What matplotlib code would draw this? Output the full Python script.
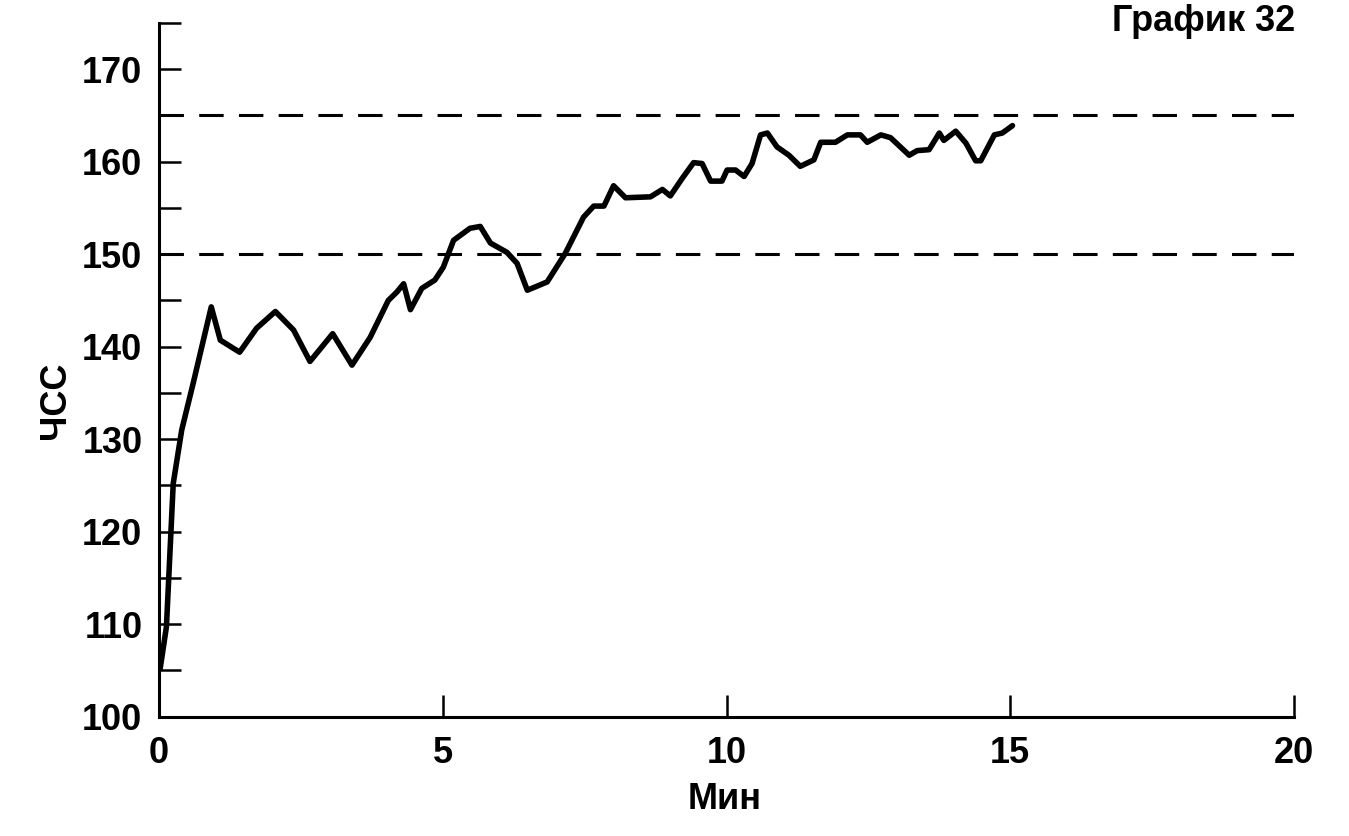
import matplotlib.pyplot as plt

# ЧСС по минутам
minutes = [0.02, 0.13, 0.25, 0.4, 0.6, 0.92, 1.08, 1.42, 1.72, 2.05, 2.37, 2.66,
           3.06, 3.4, 3.72, 4.04, 4.19, 4.31, 4.43, 4.63, 4.86, 5.01, 5.19, 5.48,
           5.66, 5.84, 6.13, 6.31, 6.49, 6.84, 7.16, 7.48, 7.66, 7.84, 8.01, 8.22,
           8.66, 8.87, 9.01, 9.22, 9.42, 9.57, 9.72, 9.92, 10.01, 10.16, 10.31,
           10.45, 10.6, 10.72, 10.89, 11.1, 11.3, 11.54, 11.66, 11.92, 12.13,
           12.36, 12.48, 12.72, 12.89, 13.22, 13.36, 13.57, 13.75, 13.83, 14.04,
           14.22, 14.39, 14.48, 14.72, 14.86, 15.04]
hr = [105.2, 109.7, 125.2, 131, 136, 144.3, 140.7, 139.4, 142, 143.8, 141.8, 138.4,
      141.4, 138, 141, 145, 145.9, 146.8, 144, 146.3, 147.2, 148.6, 151.5, 152.8,
      153, 151.2, 150.2, 149, 146.1, 147, 150.1, 154, 155.2, 155.2, 157.4, 156.1,
      156.2, 157, 156.3, 158.2, 159.9, 159.8, 157.9, 157.9, 159.1, 159.1, 158.4,
      159.8, 162.9, 163.1, 161.6, 160.7, 159.5, 160.2, 162.1, 162.1, 162.9,
      162.9, 162.1, 162.9, 162.6, 160.7, 161.2, 161.3, 163.1, 162.3, 163.3,
      162, 160.1, 160.1, 162.9, 163.1, 163.9]
thresholds = [150, 165]

plt.rcParams['font.family'] = ['Liberation Sans', 'DejaVu Sans']
plt.rcParams['font.weight'] = 'bold'
plt.rcParams['axes.labelweight'] = 'bold'

fig = plt.figure(figsize=(13.49, 8.36), dpi=100)
ax = fig.add_axes([0.1179, 0.1429, 0.9592 - 0.1179, 0.9725 - 0.1429])

for t in thresholds:
    ax.plot([0, 20], [t, t], color='black', linewidth=2.2, dashes=(8, 5))
ax.plot(minutes, hr, color='black', linewidth=4, solid_joinstyle='round',
        solid_capstyle='round')

ax.set_xlim(0, 20)
ax.set_ylim(100, 175)
ax.set_xticks([0, 5, 10, 15, 20])
ax.set_yticks([100, 105, 110, 115, 120, 125, 130, 135, 140, 145, 150, 155, 160, 165, 170, 175])
ax.set_yticklabels(['100', '', '110', '', '120', '', '130', '', '140', '', '150', '', '160', '', '170', ''])
ax.spines['top'].set_visible(False)
ax.spines['right'].set_visible(False)
ax.spines['left'].set_linewidth(2.2)
ax.spines['bottom'].set_linewidth(2.2)
ax.tick_params(axis='both', direction='in', length=16, width=1.8, labelsize=26)
ax.tick_params(axis='y', pad=12)
ax.tick_params(axis='x', pad=14)

ax.set_xlabel('Мин', fontsize=26)
ax.set_ylabel('ЧСС', fontsize=26)
ax.xaxis.set_label_coords(0.4987, -0.12)
ax.yaxis.set_label_coords(-0.0916, 0.456)
ax.xaxis.label.set_va('center')
ax.yaxis.label.set_va('center')
fig.text(0.96, 0.995, 'График 32', fontsize=26, ha='right', va='top')

fig.savefig('out.png', dpi=100)
